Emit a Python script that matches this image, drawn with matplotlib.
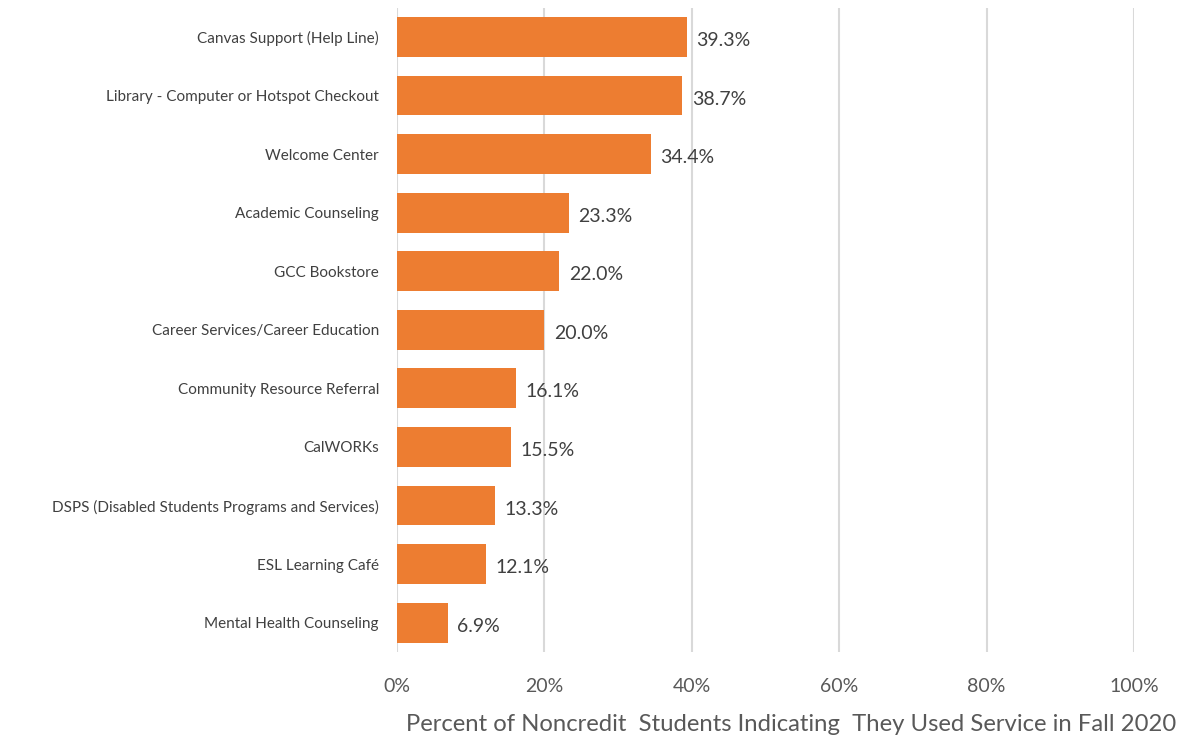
import matplotlib.pyplot as plt
import numpy as np

plt.rcParams['font.family'] = ['Lato', 'DejaVu Sans']

categories = [
    "Canvas Support (Help Line)",
    "Library - Computer or Hotspot Checkout",
    "Welcome Center",
    "Academic Counseling",
    "GCC Bookstore",
    "Career Services/Career Education",
    "Community Resource Referral",
    "CalWORKs",
    "DSPS (Disabled Students Programs and Services)",
    "ESL Learning Café",
    "Mental Health Counseling",
]
values = [39.3, 38.7, 34.4, 23.3, 22.0, 20.0, 16.1, 15.5, 13.3, 12.1, 6.9]
xticks = [0, 20, 40, 60, 80, 100]
xlabel = "Percent of Noncredit  Students Indicating  They Used Service in Fall 2020"

fig = plt.figure(figsize=(11.83, 7.4), dpi=100)
ax = fig.add_axes([0.3356, 0.119, 0.623, 0.8706])

y = np.arange(len(categories))
ax.barh(y, values, height=0.68, color="#ED7D31", zorder=3)
for yi, v in zip(y, values):
    ax.text(v + 1.3, yi + 0.06, f"{v:.1f}%", va="center", ha="left", fontsize=14, color="#404040")

ax.set_ylim(len(categories) - 0.5, -0.5)
ax.set_xlim(0, 100)
ax.set_yticks(y)
ax.set_yticklabels(categories, fontsize=11, color="#404040")
ax.set_xticks(xticks)
ax.set_xticklabels([f"{t}%" for t in xticks], fontsize=14, color="#595959")
ax.tick_params(axis="both", length=0)
ax.tick_params(axis="x", pad=19)
ax.tick_params(axis="y", pad=13)
ax.grid(axis="x", color="#D9D9D9", linewidth=1.5, zorder=0)
for s in ax.spines.values():
    s.set_visible(False)
ax.set_xlabel(xlabel, fontsize=17.2, color="#595959")
ax.xaxis.set_label_coords(0.535, -0.097)

fig.savefig("out.png", dpi=100)
